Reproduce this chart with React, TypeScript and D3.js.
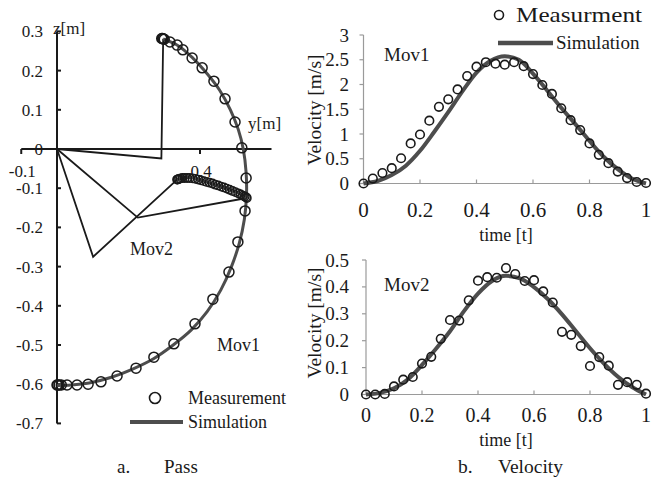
import React from "react";
import * as d3 from "d3";

// ---------- Left panel (Pass) data: [y, z] in metres ----------
const mov1Measured: [number, number][] = [
  [0.293, 0.282], [0.295, 0.282], [0.297, 0.281], [0.300, 0.280],
  [0.316, 0.273], [0.336, 0.265], [0.352, 0.253], [0.378, 0.232],
  [0.406, 0.207], [0.439, 0.173], [0.470, 0.128], [0.498, 0.069],
  [0.517, 0.003], [0.529, -0.074], [0.526, -0.158], [0.506, -0.237],
  [0.481, -0.314], [0.436, -0.383], [0.386, -0.446], [0.327, -0.497],
  [0.271, -0.531], [0.221, -0.559], [0.168, -0.579], [0.123, -0.594],
  [0.087, -0.600], [0.056, -0.602], [0.028, -0.602], [0.012, -0.602],
  [0.006, -0.602], [0.002, -0.602], [0.0, -0.602],
];
const mov1Simulated: [number, number][] = [
  [0.297, 0.281], [0.340, 0.263], [0.380, 0.232], [0.420, 0.192],
  [0.455, 0.150], [0.485, 0.100], [0.507, 0.050], [0.521, 0.0],
  [0.529, -0.060], [0.530, -0.120], [0.524, -0.180], [0.510, -0.240],
  [0.488, -0.300], [0.458, -0.360], [0.420, -0.415], [0.375, -0.462],
  [0.325, -0.500], [0.270, -0.535], [0.210, -0.562], [0.150, -0.583],
  [0.090, -0.597], [0.040, -0.602], [0.0, -0.603],
];
const mov2Measured: [number, number][] = [
  [0.336, -0.078], [0.337, -0.078], [0.339, -0.077], [0.342, -0.076],
  [0.346, -0.075], [0.351, -0.074], [0.357, -0.074], [0.364, -0.074],
  [0.371, -0.074], [0.379, -0.075], [0.387, -0.076], [0.395, -0.078],
  [0.403, -0.080], [0.411, -0.082], [0.419, -0.084], [0.427, -0.086],
  [0.435, -0.088], [0.443, -0.091], [0.451, -0.093], [0.459, -0.096],
  [0.467, -0.098], [0.475, -0.101], [0.483, -0.104], [0.491, -0.107],
  [0.499, -0.110], [0.507, -0.113], [0.514, -0.116], [0.520, -0.119],
  [0.525, -0.121], [0.529, -0.123], [0.531, -0.125],
];
const mov2Simulated: [number, number][] = [
  [0.336, -0.078], [0.350, -0.074], [0.372, -0.073], [0.400, -0.079],
  [0.430, -0.087], [0.464, -0.097], [0.503, -0.110], [0.531, -0.125],
];
const arms: [number, number][][] = [
  [[0, 0], [0.292, -0.024], [0.297, 0.281]],
  [[0, 0], [0, -0.29], [0, -0.602]],
  [[0, 0], [0.101, -0.275], [0.336, -0.078]],
  [[0, 0], [0.226, -0.175], [0.531, -0.125]],
];
const zTicks = [0.3, 0.2, 0.1, 0, -0.1, -0.2, -0.3, -0.4, -0.5, -0.6, -0.7];
const yTicks = [-0.1, 0.4];

// ---------- Right panels (Velocity) ----------
const timeSamples = [
  0, 0.033, 0.067, 0.1, 0.133, 0.167, 0.2, 0.233, 0.267, 0.3, 0.333,
  0.367, 0.4, 0.433, 0.467, 0.5, 0.533, 0.567, 0.6, 0.633, 0.667, 0.7,
  0.733, 0.767, 0.8, 0.833, 0.867, 0.9, 0.933, 0.967, 1,
];
const mov1VelMeasured = [
  0, 0.1, 0.21, 0.31, 0.51, 0.81, 0.99, 1.27, 1.55, 1.7, 1.9, 2.17, 2.36,
  2.45, 2.42, 2.4, 2.45, 2.37, 2.21, 1.99, 1.81, 1.52, 1.28, 1.08, 0.81,
  0.58, 0.41, 0.24, 0.11, 0.03, 0.01,
];
const mov2VelMeasured = [
  0, 0, 0.002, 0.03, 0.055, 0.065, 0.115, 0.14, 0.207, 0.277, 0.275, 0.35,
  0.423, 0.436, 0.434, 0.47, 0.448, 0.422, 0.425, 0.383, 0.342, 0.233,
  0.222, 0.18, 0.106, 0.139, 0.107, 0.036, 0.046, 0.036, 0.003,
];
const simTime = [
  0, 0.05, 0.1, 0.15, 0.2, 0.25, 0.3, 0.35, 0.4, 0.45, 0.5, 0.55, 0.6,
  0.65, 0.7, 0.75, 0.8, 0.85, 0.9, 0.95, 1,
];
const mov1VelSim = [
  0, 0.05, 0.17, 0.36, 0.66, 1.04, 1.44, 1.86, 2.24, 2.48, 2.57, 2.5, 2.22,
  1.88, 1.53, 1.2, 0.86, 0.54, 0.29, 0.1, 0,
];
const mov2VelSim = [
  0, 0.006, 0.023, 0.057, 0.11, 0.17, 0.235, 0.31, 0.375, 0.422, 0.441,
  0.432, 0.399, 0.354, 0.298, 0.235, 0.172, 0.115, 0.066, 0.028, 0,
];
const timeTicks = [0, 0.2, 0.4, 0.6, 0.8, 1];
const vel1Ticks = [0, 0.5, 1, 1.5, 2, 2.5, 3];
const vel2Ticks = [0, 0.1, 0.2, 0.3, 0.4, 0.5];

const FONT = "Liberation Serif";
const INK = "#1a1a1a";
const SIM = "#4d4d4d";
const AX = "#9a9a9a";

const fmt = (v: number) => (v < 0 ? "-" + String(Math.abs(v)) : String(v));

const T = (props: any) => {
  const { size, children, style, ...rest } = props;
  return (
    <text
      {...rest}
      fill={INK}
      style={{ fontFamily: FONT, fontSize: size + "px", ...(style || {}) }}
    >
      {children}
    </text>
  );
};

export default function App() {
  // Left scales
  const xL = d3.scaleLinear().domain([-0.1, 0.6]).range([21.25, 271.5]);
  const yL = d3.scaleLinear().domain([-0.7, 0.3]).range([423.4, 31.4]);
  const lineL = d3
    .line<[number, number]>()
    .x((d) => xL(d[0]))
    .y((d) => yL(d[1]));
  const curveL = d3
    .line<[number, number]>()
    .x((d) => xL(d[0]))
    .y((d) => yL(d[1]))
    .curve(d3.curveCatmullRom);

  // Right scales
  const xT = d3.scaleLinear().domain([0, 1]).range([363.5, 646]);
  const yT = d3.scaleLinear().domain([0, 3]).range([183.5, 35]);
  const xB = d3.scaleLinear().domain([0, 1]).range([366, 646]);
  const yB = d3.scaleLinear().domain([0, 0.5]).range([394.5, 260]);

  const simLine = (xs: any, ys: any, vals: number[]) =>
    d3
      .line<number>()
      .x((_, i) => xs(simTime[i]))
      .y((d) => ys(d))
      .curve(d3.curveMonotoneX)(vals) as string;

  const velPanel = (
    xs: any,
    ys: any,
    ticks: number[],
    measured: number[],
    sim: number[],
    label: string,
    labelY: number,
    xLabelBase: number,
    xLabelSize: number,
    titleBase: number,
    vTitleCenter: number
  ) => {
    const [y0, y1] = ys.range();
    const [x0, x1] = xs.range();
    return (
      <g>
        <line x1={x0} x2={x0} y1={y1} y2={y0} stroke={AX} strokeWidth={1.2} />
        <line x1={x0} x2={x1} y1={y0} y2={y0} stroke={AX} strokeWidth={1.2} />
        {ticks.map((t) => (
          <g key={"yt" + t}>
            <line x1={x0 - 4} x2={x0} y1={ys(t)} y2={ys(t)} stroke={AX} strokeWidth={1.2} />
            <T x={349} y={ys(t) + 6.5} textAnchor="end" size={19}>
              {String(t)}
            </T>
          </g>
        ))}
        {timeTicks.map((t) => (
          <g key={"xt" + t}>
            {t > 0 && t < 1 && (
              <line x1={xs(t)} x2={xs(t)} y1={y0} y2={y0 - 4} stroke={AX} strokeWidth={1.2} />
            )}
            <T x={xs(t)} y={xLabelBase} textAnchor="middle" size={xLabelSize}>
              {String(t)}
            </T>
          </g>
        ))}
        <path d={simLine(xs, ys, sim)} fill="none" stroke={SIM} strokeWidth={4} />
        {measured.map((v, i) => (
          <circle
            key={"m" + i}
            cx={xs(timeSamples[i])}
            cy={ys(v)}
            r={4.3}
            fill="none"
            stroke={INK}
            strokeWidth={1.6}
          />
        ))}
        <T x={384} y={labelY} size={19}>
          {label}
        </T>
        <T x={506} y={titleBase} textAnchor="middle" size={18}>
          time [t]
        </T>
        <T
          transform={`translate(321,${vTitleCenter}) rotate(-90)`}
          textAnchor="middle"
          size={19.5}
        >
          Velocity [m/s]
        </T>
      </g>
    );
  };

  return (
    <svg
      width={662}
      height={485}
      style={{ position: "absolute", left: 0, top: 0, background: "#fff", fontFamily: FONT }}
    >
      <rect x={0} y={0} width={662} height={485} fill="#fff" />

      {/* ---------- Left panel ---------- */}
      <g>
        {zTicks.map((t) => (
          <T key={"zl" + t} x={43} y={yL(t) + 6} textAnchor="end" size={17}>
            {fmt(t)}
          </T>
        ))}
        {yTicks.map((t) => (
          <T key={"yl" + t} x={xL(t) + 1} y={177} textAnchor="middle" size={17}>
            {fmt(t)}
          </T>
        ))}
        <line x1={xL(0)} x2={xL(0)} y1={yL(0.3)} y2={yL(-0.7)} stroke={INK} strokeWidth={2} />
        <line x1={xL(-0.1)} x2={xL(0.6)} y1={yL(0)} y2={yL(0)} stroke={INK} strokeWidth={2} />
        {zTicks.map((t) => (
          <line
            key={"zt" + t}
            x1={xL(0)}
            x2={xL(0) + 4}
            y1={yL(t)}
            y2={yL(t)}
            stroke={INK}
            strokeWidth={2}
          />
        ))}
        {yTicks.map((t) => (
          <line
            key={"yt" + t}
            x1={xL(t)}
            x2={xL(t)}
            y1={yL(0)}
            y2={yL(0) + 5}
            stroke={INK}
            strokeWidth={2}
          />
        ))}
        <T x={53} y={34} size={17}>
          z[m]
        </T>
        <T x={248} y={129} size={17}>
          y[m]
        </T>

        {arms.map((a, i) => (
          <path key={"arm" + i} d={lineL(a) as string} fill="none" stroke={INK} strokeWidth={1.8} />
        ))}

        <path d={curveL(mov1Simulated) as string} fill="none" stroke={SIM} strokeWidth={3} />
        <path d={curveL(mov2Simulated) as string} fill="none" stroke={SIM} strokeWidth={3} />

        {mov1Measured.map((d, i) => (
          <circle
            key={"p1" + i}
            cx={xL(d[0])}
            cy={yL(d[1])}
            r={5}
            fill="none"
            stroke={INK}
            strokeWidth={1.5}
          />
        ))}
        {mov2Measured.map((d, i) => (
          <circle
            key={"p2" + i}
            cx={xL(d[0])}
            cy={yL(d[1])}
            r={4.2}
            fill="none"
            stroke={INK}
            strokeWidth={1.4}
          />
        ))}

        <T x={130} y={255} size={18}>
          Mov2
        </T>
        <T x={217} y={351} size={18}>
          Mov1
        </T>

        <circle cx={155} cy={398} r={5.5} fill="none" stroke={INK} strokeWidth={1.6} />
        <T x={188} y={404} size={18}>
          Measurement
        </T>
        <line x1={130} x2={183} y1={422} y2={422} stroke={SIM} strokeWidth={4} />
        <T x={188} y={428} size={18}>
          Simulation
        </T>

        <T x={117} y={473} size={19}>
          a.
        </T>
        <T x={164} y={473} size={19}>
          Pass
        </T>
      </g>

      {velPanel(xT, yT, vel1Ticks, mov1VelMeasured, mov1VelSim, "Mov1", 61, 217, 21, 241, 110)}
      {velPanel(xB, yB, vel2Ticks, mov2VelMeasured, mov2VelSim, "Mov2", 291, 422, 20, 446, 323)}

      <circle cx={499} cy={15} r={4.5} fill="none" stroke={INK} strokeWidth={1.6} />
      <T x={516} y={22} size={22} textLength={126} lengthAdjust="spacingAndGlyphs">
        Measurment
      </T>
      <line x1={498} x2={553} y1={43} y2={43} stroke={SIM} strokeWidth={4.5} />
      <T x={556} y={49} size={19}>
        Simulation
      </T>

      <T x={458} y={473} size={19.5}>
        b.
      </T>
      <T x={498} y={473} size={19.5}>
        Velocity
      </T>
    </svg>
  );
}
